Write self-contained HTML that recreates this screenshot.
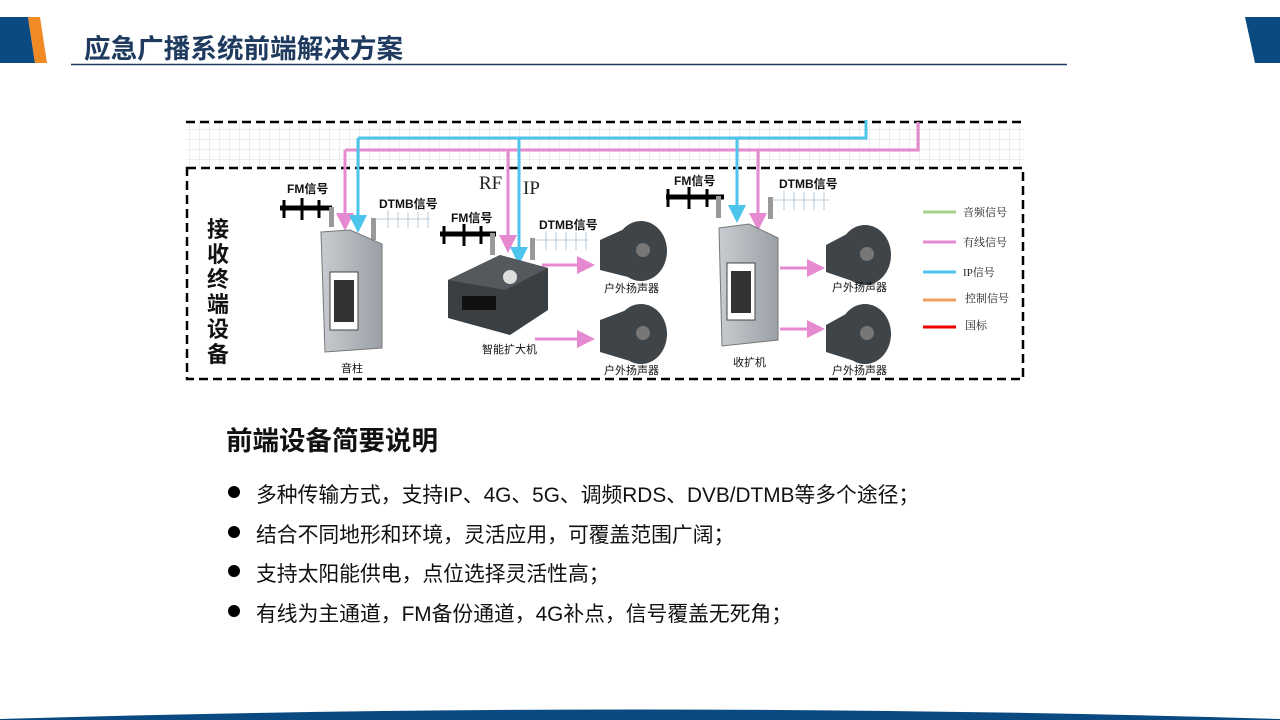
<!DOCTYPE html>
<html><head><meta charset="utf-8"><style>
body{margin:0;width:1280px;height:720px;overflow:hidden;background:#fff;font-family:"Liberation Sans","Noto Sans CJK SC",sans-serif;position:relative}
.t{position:absolute;left:84px;top:27px;font-size:26.6px;font-weight:bold;color:#1f3a5f;letter-spacing:0px}
.h{position:absolute;left:226px;top:419px;font-size:26.5px;font-weight:bold;color:#111}
ul{position:absolute;left:226px;top:478px;margin:0;padding:0;list-style:none}
li{font-size:20.8px;color:#111;height:39.5px;position:relative;padding-left:30px}
li:before{content:"";position:absolute;left:2px;top:8px;width:12px;height:12px;border-radius:50%;background:#000}
</style></head><body>
<svg width="1280" height="720" style="position:absolute;left:0;top:0">
<defs>
<pattern id="g" width="10" height="10" patternUnits="userSpaceOnUse"><path d="M10 0V10H0" fill="none" stroke="#ddd" stroke-width="1"/></pattern>
<marker id="ap" markerWidth="6" markerHeight="6" refX="3" refY="3" orient="auto"><path d="M0,0L6,3L0,6z" fill="#e58ad0"/></marker>
<marker id="ab" markerWidth="6" markerHeight="6" refX="3" refY="3" orient="auto"><path d="M0,0L6,3L0,6z" fill="#4cc4ec"/></marker>
<linearGradient id="cab" x1="0" x2="1"><stop offset="0" stop-color="#c8ccd0"/><stop offset="1" stop-color="#9aa0a6"/></linearGradient>
</defs>
<path d="M0 17H28L35 63H0z" fill="#0b4a80"/><path d="M28 17H40L47 63H35z" fill="#f08a24"/>
<path d="M1245 17H1280V63H1255z" fill="#0b4a80"/>
<line x1="71" y1="64.5" x2="1067" y2="64.5" stroke="#1f3a5f" stroke-width="1.5"/>
<path d="M0 720L0 719Q640 700 1280 719V720z" fill="#0b4a80"/>
<rect x="186" y="120" width="838" height="48" fill="url(#g)"/>
<line x1="186" y1="122" x2="1024" y2="122" stroke="#000" stroke-width="2.5" stroke-dasharray="9,5"/>
<rect x="187" y="168" width="836" height="211" fill="#fff" stroke="#000" stroke-width="2.5" stroke-dasharray="9,5"/>
<g fill="none" stroke-width="3">
<path d="M866 120V138H358" stroke="#4cc4ec"/>
<path d="M918 122V150H345" stroke="#e58ad0"/>
<path d="M345 150V222" stroke="#e58ad0" marker-end="url(#ap)"/>
<path d="M358 138V224" stroke="#4cc4ec" marker-end="url(#ab)"/>
<path d="M508 150V244" stroke="#e58ad0" marker-end="url(#ap)"/>
<path d="M519 138V256" stroke="#4cc4ec" marker-end="url(#ab)"/>
<path d="M737 138V214" stroke="#4cc4ec" marker-end="url(#ab)"/>
<path d="M758 150V222" stroke="#e58ad0" marker-end="url(#ap)"/>
<path d="M542 265H586" stroke="#e58ad0" marker-end="url(#ap)"/>
<path d="M535 339H586" stroke="#e58ad0" marker-end="url(#ap)"/>
<path d="M780 268H816" stroke="#e58ad0" marker-end="url(#ap)"/>
<path d="M780 329H816" stroke="#e58ad0" marker-end="url(#ap)"/>
</g>
<g stroke-width="3"><line x1="923" y1="212" x2="956" y2="212" stroke="#a8d08d"/><line x1="923" y1="242" x2="956" y2="242" stroke="#e58ad0"/><line x1="923" y1="272" x2="956" y2="272" stroke="#4cc4ec"/><line x1="923" y1="300" x2="956" y2="300" stroke="#f0a060"/><line x1="923" y1="327" x2="956" y2="327" stroke="#e00"/></g>
<g font-family="Liberation Serif,Noto Serif CJK SC,serif" font-size="11" fill="#222"><text x="963" y="216">音频信号</text><text x="963" y="246">有线信号</text><text x="963" y="276">IP信号</text><text x="965" y="302">控制信号</text><text x="965" y="329">国标</text></g>
<g stroke="#000" stroke-width="5"><line x1="280" y1="208" x2="332" y2="208"/><line x1="440" y1="234" x2="496" y2="234"/><line x1="666" y1="197" x2="724" y2="197"/></g>
<g stroke="#000" stroke-width="3"><line x1="284" y1="200" x2="284" y2="218"/><line x1="302" y1="198" x2="302" y2="220"/><line x1="319" y1="200" x2="319" y2="218"/><line x1="444" y1="226" x2="444" y2="244"/><line x1="464" y1="224" x2="464" y2="246"/><line x1="481" y1="226" x2="481" y2="244"/><line x1="668" y1="189" x2="668" y2="207"/><line x1="689" y1="187" x2="689" y2="209"/><line x1="707" y1="189" x2="707" y2="207"/></g>
<g fill="#999"><rect x="329" y="207" width="5" height="20"/><rect x="490" y="233" width="5" height="22"/><rect x="716" y="196" width="5" height="22"/><rect x="371" y="218" width="5" height="22"/><rect x="530" y="238" width="5" height="22"/><rect x="768" y="197" width="5" height="22"/></g>
<g stroke="#b8c8d8" stroke-width="1"><path d="M375 219H430M388 210V228M398 212V228M408 212V228M418 212V228M428 212V228"/><path d="M535 240H588M546 231V250M556 232V250M566 232V250M576 232V250M586 232V250"/><path d="M772 200H829M784 191V210M794 192V210M804 192V210M814 192V210M824 192V210"/></g>
<g font-weight="bold" font-size="12" fill="#111"><text x="287" y="193">FM信号</text><text x="379" y="208">DTMB信号</text><text x="451" y="222">FM信号</text><text x="539" y="229">DTMB信号</text><text x="674" y="185">FM信号</text><text x="779" y="188">DTMB信号</text></g>
<g font-family="Liberation Serif,serif" font-size="19" fill="#222"><text x="479" y="189">RF</text><text x="523" y="194">IP</text></g>
<text font-size="22" font-weight="bold" fill="#111"><tspan x="207" y="237">接</tspan><tspan x="207" y="262">收</tspan><tspan x="207" y="287">终</tspan><tspan x="207" y="312">端</tspan><tspan x="207" y="337">设</tspan><tspan x="207" y="362">备</tspan></text>
<path d="M321 232L350 230L382 244V348L325 352z" fill="url(#cab)" stroke="#777"/>
<path d="M330 272H358V330H330z" fill="#fff" stroke="#444"/><rect x="334" y="280" width="20" height="42" fill="#333"/>
<path d="M719 228L749 224L778 238V340L722 346z" fill="url(#cab)" stroke="#777"/>
<path d="M727 263H755V320H727z" fill="#fff" stroke="#444"/><rect x="731" y="271" width="20" height="42" fill="#333"/>
<path d="M448 280L500 255L548 268V310L510 335L448 318z" fill="#3a3f44"/>
<path d="M448 280L500 255L548 268L505 290z" fill="#55595e"/>
<rect x="462" y="296" width="34" height="14" fill="#111"/>
<circle cx="510" cy="277" r="7" fill="#ddd"/>
<g fill="#3f4448"><ellipse cx="641" cy="251" rx="26" ry="30"/><ellipse cx="641" cy="334" rx="26" ry="30"/><ellipse cx="865" cy="255" rx="26" ry="30"/><ellipse cx="865" cy="334" rx="26" ry="30"/>
<path d="M600 240L640 222V280L600 270z"/><path d="M600 320L640 305V364L600 352z"/><path d="M826 245L864 225V285L826 272z"/><path d="M826 325L864 304V364L826 352z"/></g>
<g fill="#777"><circle cx="643" cy="250" r="7"/><circle cx="643" cy="333" r="7"/><circle cx="867" cy="254" r="7"/><circle cx="867" cy="333" r="7"/></g>
<g font-size="11" fill="#111"><text x="604" y="292">户外扬声器</text><text x="604" y="374">户外扬声器</text><text x="832" y="291">户外扬声器</text><text x="832" y="374">户外扬声器</text><text x="341" y="372">音柱</text><text x="482" y="353">智能扩大机</text><text x="733" y="366">收扩机</text></g>
</svg>
<div class="t">应急广播系统前端解决方案</div>
<div class="h">前端设备简要说明</div>
<ul><li>多种传输方式，支持IP、4G、5G、调频RDS、DVB/DTMB等多个途径；</li><li>结合不同地形和环境，灵活应用，可覆盖范围广阔；</li><li>支持太阳能供电，点位选择灵活性高；</li><li>有线为主通道，FM备份通道，4G补点，信号覆盖无死角；</li></ul>
</body></html>
